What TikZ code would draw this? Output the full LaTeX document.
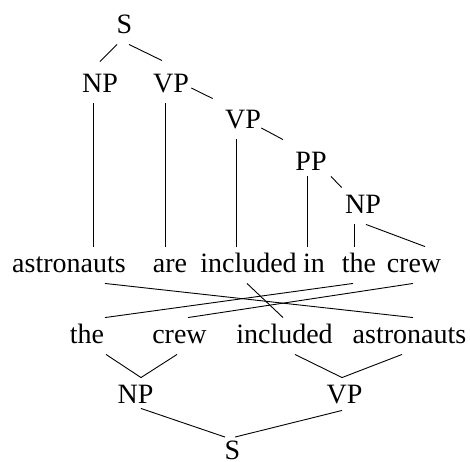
\documentclass[tikz,border=0pt]{standalone}
\usepackage{fontspec}
\setmainfont{Liberation Serif}

\begin{document}
\begin{tikzpicture}[x=1pt,y=-1pt,line width=0.9pt,
  cat node/.style={inner sep=0pt,text height=25pt,text depth=11pt,anchor=base,font=\fontsize{28}{34}\selectfont}]

  \useasboundingbox (0,0) rectangle (470,461);

  % upper tree
  \node[cat node] (s1) at (124.5,33) {S};
  \node[cat node] (np1) at (100,92) {NP};
  \node[cat node] (vp1) at (171,92) {VP};
  \node[cat node] (vp2) at (243,128) {VP};
  \node[cat node] (pp1) at (311,170) {PP};
  \node[cat node] (np2) at (363,213) {NP};

  % source words
  \node[cat node] (w1) at (69,272) {astronauts};
  \node[cat node] (w2) at (170,272) {are};
  \node[cat node] (w3) at (248.5,272) {included};
  \node[cat node] (w4) at (314,272) {in};
  \node[cat node] (w5) at (359,272) {the};
  \node[cat node] (w6) at (414,272) {crew};

  % target words
  \node[cat node] (t1) at (87,343) {the};
  \node[cat node] (t2) at (179.5,343) {crew};
  \node[cat node] (t3) at (284.5,343) {included};
  \node[cat node] (t4) at (409.5,343) {astronauts};

  % lower tree
  \node[cat node] (np3) at (135.5,403) {NP};
  \node[cat node] (vp3) at (344.5,403) {VP};
  \node[cat node,text depth=0pt] (s2) at (232.5,459.5) {S};

  \path[every edge/.style={draw}]
  ([xshift=-7.5pt]s1.south) edge ([yshift=5pt]np1.north)
  ([xshift=4.5pt]s1.south) edge ([xshift=-9pt,yshift=6pt]vp1.north)
  ([xshift=2pt,yshift=-3pt]vp1.east) edge ([xshift=-12pt,yshift=4pt]vp2.north west)
  ([yshift=-7pt]vp2.east) edge ([xshift=-12pt,yshift=5pt]pp1.north west)
  ([xshift=4pt,yshift=5pt]pp1.south east) edge ([xshift=-3pt]np2.north west)

  ([xshift=-7pt]np1.south) edge ([xshift=-7pt]np1.south |- w1.north)
  ([xshift=-6pt]vp1.south) edge ([xshift=-6pt]vp1.south |- w2.north)
  ([xshift=-7pt]vp2.south) edge ([xshift=-7pt]vp2.south |- w3.north)
  ([xshift=-4pt,yshift=5pt]pp1.south) edge ([xshift=-4pt]pp1.south |- w4.north)
  ([xshift=-9pt]np2.south) edge ([xshift=-9pt]np2.south |- w5.north)
  ([xshift=3pt]np2.south) edge ([xshift=11pt]w6.north)

  ([xshift=36pt]w1.south) edge ([xshift=3.5pt]t4.north)
  ([xshift=-6pt]w5.south) edge ([xshift=18pt]t1.north)
  ([xshift=-1pt]w6.south) edge ([xshift=8.5pt]t2.north)
  ([xshift=-1.5pt]w3.south) edge ([xshift=-1.5pt]t3.north)

  ([xshift=19pt]t1.south) edge ([xshift=5.5pt]np3.north)
  ([xshift=-2.5pt]t2.south) edge ([xshift=5.5pt]np3.north)
  ([xshift=10.5pt]t3.south) edge ([xshift=-2.5pt]vp3.north)
  ([xshift=-7.5pt]t4.south) edge ([xshift=-2.5pt]vp3.north)
  ([xshift=5.5pt,yshift=6pt]np3.south) edge ([xshift=-7.5pt,yshift=-3pt]s2.north)
  ([xshift=-2.5pt,yshift=4pt]vp3.south) edge ([xshift=2.5pt,yshift=-3pt]s2.north);
\end{tikzpicture}
\end{document}
